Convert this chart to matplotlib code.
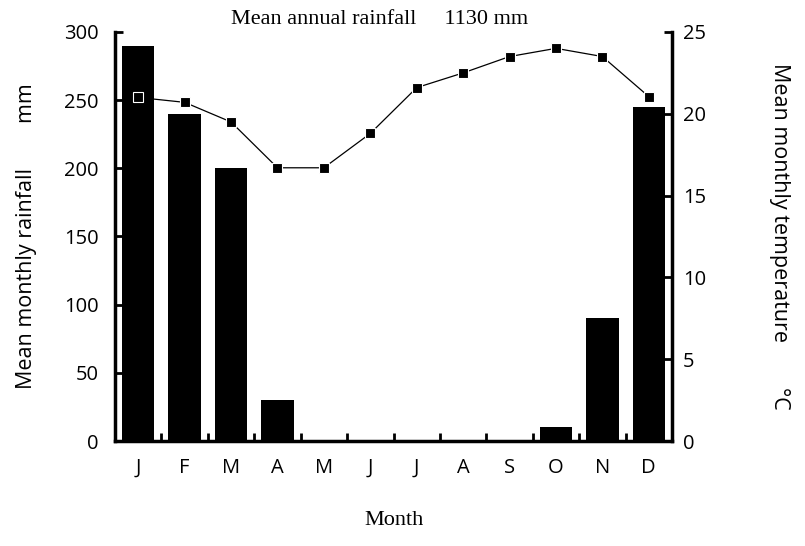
import numpy as np
import matplotlib
import matplotlib.pyplot as plt
from matplotlib.ticker import FixedLocator

months = ["J", "F", "M", "A", "M", "J", "J", "A", "S", "O", "N", "D"]
rainfall_mm = [290, 240, 200, 30, 1, 1, 1, 1, 1, 10, 90, 245]
temp_c = [21.0, 20.7, 19.5, 16.7, 16.7, 18.8, 21.6, 22.5, 23.5, 24.0, 23.5, 21.05]
rain_ticks = [0, 50, 100, 150, 200, 250, 300]
temp_ticks = [0, 5, 10, 15, 20, 25]

matplotlib.rcParams['font.family'] = ['Open Sans', 'DejaVu Sans']

if __name__ == "__main__":
    fig = plt.figure(figsize=(8.05, 5.46), dpi=100)
    ax = fig.add_axes([0.1429, 0.1923, 0.6919, 0.7491])
    ax_t = ax.twinx()

    x = np.arange(len(months))
    ax.bar(x, rainfall_mm, width=0.7, color="black", zorder=2)
    ax.set_xlim(-0.5, len(months) - 0.5)
    ax.set_ylim(0, 300)

    ax_t.plot(x, temp_c, color="black", lw=0.9, marker="s", markersize=7.5,
              markerfacecolor="black", markeredgecolor="white",
              markeredgewidth=0.8, zorder=3)
    ax_t.set_ylim(0, 25)

    for a in (ax, ax_t):
        a.spines['top'].set_visible(False)
        for s in ('left', 'right', 'bottom'):
            a.spines[s].set_linewidth(2.5)
    ax.spines['right'].set_visible(False)
    ax_t.spines['left'].set_visible(False)
    ax_t.spines['bottom'].set_visible(False)

    ax.set_yticks(rain_ticks, [f"{t}" for t in rain_ticks], fontsize=14.5)
    ax.tick_params(axis='y', direction='in', length=6, width=2, pad=12)
    ax_t.set_yticks(temp_ticks, [f"{t}" for t in temp_ticks], fontsize=14.5)
    ax_t.tick_params(axis='y', direction='in', length=6, width=2, pad=8)

    ax.set_xticks(x, months, fontsize=14.5)
    ax.tick_params(axis='x', which='major', length=0, pad=12)
    ax.xaxis.set_minor_locator(FixedLocator(np.arange(0.5, len(months) - 1, 1.0)))
    ax.tick_params(axis='x', which='minor', direction='in', length=6, width=2)

    ax.set_ylabel("Mean monthly rainfall        mm", fontsize=15.5, labelpad=19)
    ax_t.set_ylabel("Mean monthly temperature        °C", fontsize=15.5,
                    rotation=-90, labelpad=60)
    ax.set_xlabel("Month", fontsize=16, family="Liberation Serif", labelpad=24)

    fig.text(0.472, 0.965, "Mean annual rainfall     1130 mm", ha="center",
             va="center", fontsize=16, family="Liberation Serif")

    fig.savefig("out.png", dpi=100)
    plt.close(fig)
